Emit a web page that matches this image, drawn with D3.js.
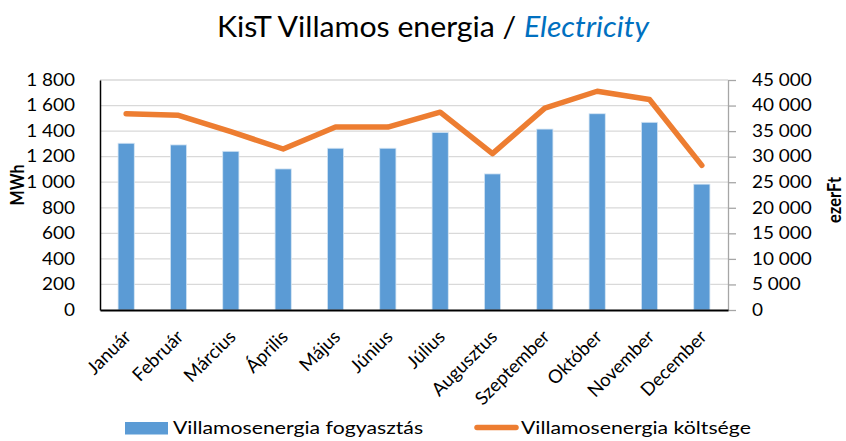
<!DOCTYPE html>
<html>
<head>
<meta charset="utf-8">
<script src="https://cdn.jsdelivr.net/npm/d3@7"></script>
<style>
  body { margin: 0; background: #fff; }
  svg { display: block; font-family: Lato, "Open Sans", sans-serif; }
</style>
</head>
<body>
<svg id="chart" width="846" height="441"></svg>
<script>
const months = ["Január","Február","Március","Április","Május","Június","Július","Augusztus","Szeptember","Október","November","December"];
const consumption = [1305, 1292, 1242, 1104, 1266, 1266, 1390, 1065, 1416, 1536, 1469, 985];
const cost = [38400, 38100, 34900, 31500, 35800, 35800, 38700, 30600, 39500, 42800, 41200, 28300];
const leftTicks = [0, 200, 400, 600, 800, 1000, 1200, 1400, 1600, 1800];
const rightTicks = [0, 5000, 10000, 15000, 20000, 25000, 30000, 35000, 40000, 45000];
const seriesNames = ["Villamosenergia fogyasztás", "Villamosenergia költsége"];

const svg = d3.select("#chart");
const m = { left: 100, right: 728, top: 80, bottom: 310 };
const blue = "#5B9BD5", orange = "#ED7D31";
const fmt = v => d3.format(",")(v).replace(/,/g, " ");
const SX = 1.15; // horizontal text stretch

const x = d3.scaleBand().domain(months).range([m.left, m.right]).paddingInner(0.69).paddingOuter(0.345);
const yL = d3.scaleLinear().domain([0, 1800]).range([m.bottom, m.top]);
const yR = d3.scaleLinear().domain([0, 45000]).range([m.bottom, m.top]);

// gridlines
svg.append("g").selectAll("line").data(leftTicks.slice(1)).join("line")
  .attr("x1", m.left).attr("x2", m.right)
  .attr("y1", d => yL(d)).attr("y2", d => yL(d))
  .attr("stroke", "#d9d9d9").attr("stroke-width", 1.3);

// bars
svg.append("g").selectAll("rect").data(consumption).join("rect")
  .attr("x", (d, i) => x(months[i]))
  .attr("width", x.bandwidth())
  .attr("y", d => yL(d))
  .attr("height", d => m.bottom - yL(d))
  .attr("fill", blue)
  .attr("stroke", "#d6e6f4").attr("stroke-width", 0.8);

// line
const line = d3.line().x((d, i) => x(months[i]) + x.bandwidth() / 2).y(d => yR(d));
svg.append("path").datum(cost)
  .attr("d", line).attr("fill", "none")
  .attr("stroke", orange).attr("stroke-width", 5.5)
  .attr("stroke-linejoin", "round").attr("stroke-linecap", "round");

// left axis
const gL = svg.append("g").attr("transform", `translate(${m.left},0)`)
  .call(d3.axisLeft(yL).tickValues(leftTicks).tickFormat(fmt).tickSize(0));
gL.select(".domain").attr("stroke", "#000").attr("stroke-width", 1.5);
gL.selectAll("text").attr("font-size", 16.5).attr("fill", "#000").attr("font-family", "Lato")
  .attr("x", 0).attr("transform", `translate(-25,0) scale(${SX},1)`);

// right axis
const gR = svg.append("g").attr("transform", `translate(${m.right},0)`)
  .call(d3.axisRight(yR).tickValues(rightTicks).tickFormat(fmt).tickSize(8).tickSizeOuter(0));
gR.select(".domain").attr("stroke", "#a6a6a6").attr("stroke-width", 1.3);
gR.selectAll(".tick line").attr("stroke", "#a6a6a6").attr("stroke-width", 1.3);
gR.selectAll("text").attr("font-size", 16.5).attr("fill", "#000").attr("font-family", "Lato")
  .attr("x", 0).attr("transform", `translate(24,0) scale(${SX},1)`);

// bottom axis
const gB = svg.append("g").attr("transform", `translate(0,${m.bottom})`)
  .call(d3.axisBottom(x).tickSize(0).tickSizeOuter(0).tickPadding(0));
gB.select(".domain").attr("stroke", "#000").attr("stroke-width", 2);
gB.selectAll("text")
  .attr("font-size", 18.5).attr("fill", "#000").attr("font-family", "Lato")
  .attr("text-anchor", "end").attr("y", 0).attr("dy", "0")
  .attr("transform", "translate(6,28) rotate(-45)");

// title
const title = svg.append("text").attr("transform", "translate(433,37) scale(1.08,1)").attr("text-anchor", "middle")
  .attr("font-size", 28).attr("fill", "#000");
title.append("tspan").text("KisT Villamos energia / ");
title.append("tspan").text("Electricity").attr("font-style", "italic").attr("fill", "#0070C0");

// axis titles
svg.append("text").attr("transform", `translate(24,185) scale(${SX},1) rotate(-90)`).attr("text-anchor", "middle")
  .attr("font-size", 16).attr("font-weight", "bold").text("MWh");
svg.append("text").attr("transform", `translate(841,200) scale(${SX},1) rotate(-90)`).attr("text-anchor", "middle")
  .attr("font-size", 16.5).attr("font-weight", "bold").text("ezerFt");

// legend
const lg = svg.append("g");
lg.append("rect").attr("x", 125).attr("y", 422).attr("width", 43).attr("height", 12.5).attr("fill", blue);
lg.append("text").attr("transform", "translate(173,434) scale(1.18,1)").attr("font-size", 18).text(seriesNames[0]);
lg.append("line").attr("x1", 477).attr("x2", 516).attr("y1", 427.5).attr("y2", 427.5)
  .attr("stroke", orange).attr("stroke-width", 5.5).attr("stroke-linecap", "round");
lg.append("text").attr("transform", "translate(521,434) scale(1.18,1)").attr("font-size", 18).text(seriesNames[1]);
</script>
</body>
</html>
